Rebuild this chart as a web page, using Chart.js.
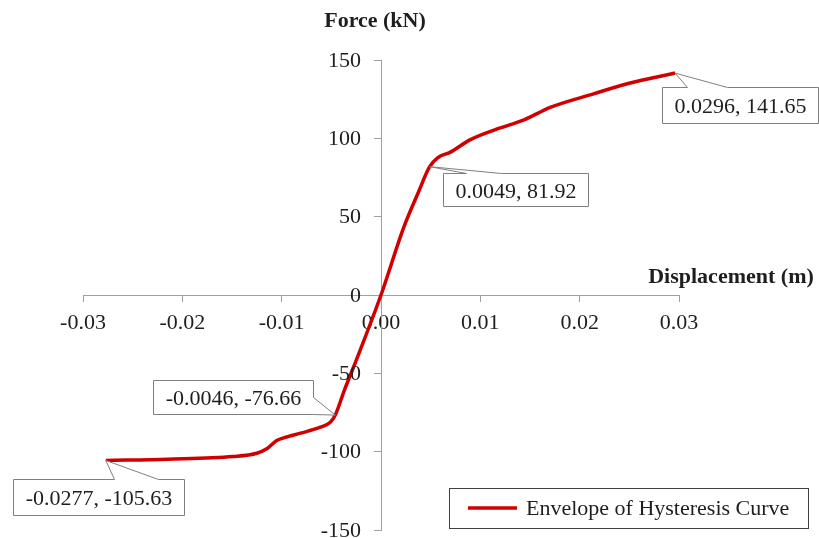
<!DOCTYPE html>
<html>
<head>
<meta charset="utf-8">
<script src="https://cdn.jsdelivr.net/npm/chart.js@4"></script>
<style>
  body { margin: 0; background: #fff; }
  canvas { display: block; }
</style>
</head>
<body>
<canvas id="envelopeChart" width="819" height="538"></canvas>
<script>
// envelope of hysteresis curve - displacement (m) vs force (kN)

const disp = [-0.0277, -0.0215, -0.0149, -0.0125, -0.0115, -0.0105, -0.0098, -0.0081, -0.0061, -0.0051,
    -0.0046, -0.0037, -0.0027, 0, 0.0023, 0.0037, 0.0049, 0.0057, 0.0070, 0.0090,
    0.0117, 0.0144, 0.0171, 0.0214, 0.0248, 0.0296];
const force = [-105.63, -104.8, -103.1, -101.0, -98.2, -92.9, -91.2, -88.2, -84.4, -81.2,
    -76.66, -61.0, -45.0, 0, 43.3, 64.6, 81.92, 87.6, 91.2, 99.2,
    106.0, 111.8, 119.9, 128.4, 134.8, 141.65];

const xTicks = [-0.03, -0.02, -0.01, 0, 0.01, 0.02, 0.03];
const yTicks = [-150, -100, -50, 0, 50, 100, 150];

const calloutAt = [-0.0277, -0.0046, 0.0049, 0.0296];

const seriesName = 'Envelope of Hysteresis Curve';
const xTitle = 'Displacement (m)';
const yTitle = 'Force (kN)';

const RED = '#d00000';
const AXIS = '#a0a0a0';
const TEXT = '#1e1e1e';
const SERIF = "'Liberation Serif', 'Times New Roman', serif";

// callout box placement relative to the labelled point
const calloutStyle = [
    { dx: -93, dy: 19, h: 36, side: 'top', a: 101, b: 145 },
    { dx: -22, dy: -35, h: 34, side: 'right', a: 17, b: 34 },
    { dx: 13, dy: 6, h: 33, side: 'top', a: 23, b: 58 },
    { dx: -13, dy: 14, h: 36, side: 'top', a: 25, b: 65 }
];

const extras = {
    id: 'extras',
    afterDraw(chart) {
        const ctx = chart.ctx;
        const xs = chart.scales.x, ys = chart.scales.y;
        ctx.save();

        // y tick labels (centred axis puts them on the line, so placed here)
        const axisX = xs.getPixelForValue(0);
        ctx.fillStyle = TEXT;
        ctx.font = '22px ' + SERIF;
        ctx.textAlign = 'right';
        ctx.textBaseline = 'middle';
        yTicks.forEach(v => ctx.fillText(String(v), axisX - 20, ys.getPixelForValue(v) + 1));

        // axis titles
        ctx.font = 'bold 22px ' + SERIF;
        ctx.textAlign = 'center';
        ctx.textBaseline = 'alphabetic';
        ctx.fillText(yTitle, 375, 27);
        ctx.fillText(xTitle, 731, 283);

        // callouts
        ctx.font = '22px ' + SERIF;
        calloutAt.forEach((xv, k) => {
            const i = disp.indexOf(xv);
            const yv = force[i];
            const px = xs.getPixelForValue(xv);
            const py = ys.getPixelForValue(yv);
            const text = xv + ', ' + yv.toFixed(2);
            const st = calloutStyle[k];
            const w = Math.round(ctx.measureText(text).width + 24);
            let left, top = Math.round(py + st.dy) + 0.5;
            if (st.side === 'right') left = Math.round(px + st.dx - w) + 0.5;
            else left = Math.round(px + st.dx) + 0.5;
            const right = left + w, bottom = top + st.h;

            ctx.beginPath();
            if (st.side === 'top') {
                ctx.moveTo(left, top);
                ctx.lineTo(left + st.a, top);
                ctx.lineTo(px, py);
                ctx.lineTo(left + st.b, top);
                ctx.lineTo(right, top);
                ctx.lineTo(right, bottom);
                ctx.lineTo(left, bottom);
            } else {
                ctx.moveTo(left, top);
                ctx.lineTo(right, top);
                ctx.lineTo(right, top + st.a);
                ctx.lineTo(px, py);
                ctx.lineTo(right, top + st.b);
                ctx.lineTo(right, bottom);
                ctx.lineTo(left, bottom);
            }
            ctx.closePath();
            ctx.fillStyle = '#fff';
            ctx.fill();
            ctx.strokeStyle = '#7f7f7f';
            ctx.lineWidth = 1;
            ctx.stroke();

            ctx.fillStyle = TEXT;
            ctx.textAlign = 'center';
            ctx.textBaseline = 'middle';
            ctx.fillText(text, (left + right) / 2, (top + bottom) / 2 + 2);
        });

        // legend
        const lx = 449.5, ly = 488.5, lw = 359, lh = 40;
        ctx.fillStyle = '#fff';
        ctx.fillRect(lx, ly, lw, lh);
        ctx.strokeStyle = '#404040';
        ctx.lineWidth = 1;
        ctx.strokeRect(lx, ly, lw, lh);
        ctx.strokeStyle = RED;
        ctx.lineWidth = 3.5;
        ctx.beginPath();
        ctx.moveTo(468, 508);
        ctx.lineTo(517, 508);
        ctx.stroke();
        ctx.fillStyle = TEXT;
        ctx.textAlign = 'left';
        ctx.textBaseline = 'middle';
        ctx.fillText(seriesName, 526, 509);

        ctx.restore();
    }
};

function noPadding(scale) {
    scale.paddingLeft = scale.paddingRight = scale.paddingTop = scale.paddingBottom = 0;
}

new Chart(document.getElementById('envelopeChart'), {
    type: 'scatter',
    data: {
        datasets: [{
            label: seriesName,
            data: disp.map((x, i) => ({ x: x, y: force[i] })),
            showLine: true,
            borderColor: RED,
            backgroundColor: RED,
            borderWidth: 3.5,
            pointRadius: 0,
            cubicInterpolationMode: 'monotone',
            clip: false
        }]
    },
    options: {
        responsive: false,
        animation: false,
        devicePixelRatio: 1,
        layout: { padding: { left: 83, right: 140, top: 60, bottom: 8 } },
        plugins: { legend: { display: false }, tooltip: { enabled: false } },
        scales: {
            x: {
                type: 'linear',
                position: { y: 0 },
                min: xTicks[0],
                max: xTicks[xTicks.length - 1],
                afterFit: noPadding,
                afterBuildTicks: (scale) => { scale.ticks = xTicks.map(v => ({ value: v })); },
                grid: { drawOnChartArea: false, drawTicks: true, tickLength: 6, color: AXIS },
                border: { display: true, color: AXIS, width: 1 },
                ticks: {
                    padding: 9,
                    color: TEXT,
                    font: { family: SERIF, size: 22 },
                    maxRotation: 0,
                    autoSkip: false,
                    callback: (v) => (Math.abs(v) < 1e-9 ? 0 : v).toFixed(2)
                }
            },
            y: {
                type: 'linear',
                position: { x: 0 },
                min: yTicks[0],
                max: yTicks[yTicks.length - 1],
                afterFit: noPadding,
                afterBuildTicks: (scale) => { scale.ticks = yTicks.map(v => ({ value: v })); },
                grid: { drawOnChartArea: false, drawTicks: true, tickLength: 7, color: AXIS },
                border: { display: true, color: AXIS, width: 1 },
                ticks: { display: false }
            }
        }
    },
    plugins: [extras]
});
</script>
</body>
</html>
